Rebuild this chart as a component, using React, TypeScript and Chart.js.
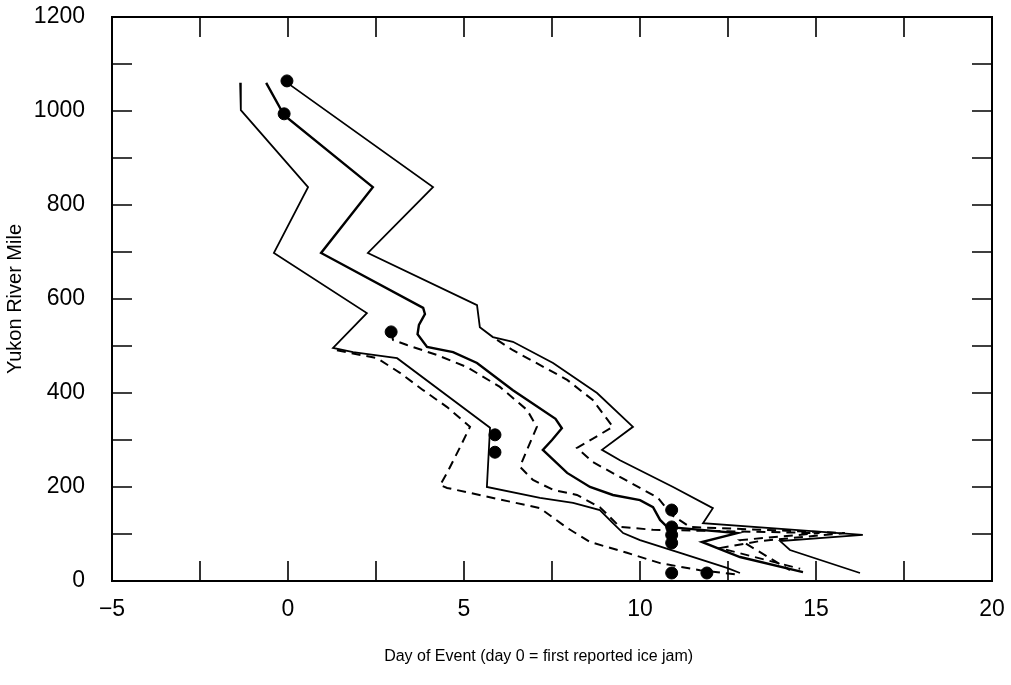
import React, { useEffect, useRef } from "react";
import { Chart, registerables } from "chart.js";

Chart.register(...registerables);

// Axis tick positions
const dayLabelTicks = [-5, 0, 5, 10, 15, 20];
const dayMarkTicks = [-5, -2.5, 0, 2.5, 5, 7.5, 10, 12.5, 15, 17.5, 20];
const mileLabelTicks = [0, 200, 400, 600, 800, 1000, 1200];
const mileMarkTicks = [0, 100, 200, 300, 400, 500, 600, 700, 800, 900, 1000, 1100, 1200];

// Observed events [day, river mile]
const observedEvents: [number, number][] = [
  [-0.03, 1064], [-0.11, 994], [2.93, 530], [5.88, 311], [5.88, 274],
  [10.9, 151], [10.9, 115], [10.9, 98], [10.9, 81], [10.9, 17], [11.9, 17],
];

// Left solid envelope
const leftSolid: [number, number][] = [
  [-1.36, 1060], [-1.34, 1002], [0.57, 838], [-0.4, 698], [2.24, 570],
  [1.28, 496], [1.85, 487], [3.1, 474], [5.74, 326], [5.65, 200],
  [7.16, 177], [8.1, 166], [8.86, 151], [9.23, 123], [9.52, 102],
  [10.0, 87], [11.14, 60], [12.47, 28], [12.84, 17],
];

// Centre solid line
const centreSolid: [number, number][] = [
  [-0.62, 1060], [-0.11, 991], [2.41, 838], [0.94, 698], [3.84, 581],
  [3.89, 568], [3.72, 545], [3.68, 525], [3.95, 498], [4.69, 487],
  [5.37, 464], [6.39, 406], [7.6, 345], [7.78, 325], [7.5, 300], [7.24, 279],
  [7.93, 230], [8.58, 200], [9.23, 183], [10.0, 172], [10.37, 157],
  [10.57, 130], [10.77, 115], [12.76, 102], [11.76, 83], [12.84, 51],
  [14.63, 19],
];

// Right solid envelope
const rightSolid: [number, number][] = [
  [-0.06, 1062], [4.12, 838], [2.27, 698], [5.37, 587],
  [5.45, 540], [5.82, 519], [6.39, 509], [7.53, 464], [8.78, 400],
  [9.8, 328], [8.92, 279], [9.43, 257], [10.94, 200], [12.07, 155],
  [11.79, 123], [16.33, 98], [13.98, 85], [14.26, 66], [16.25, 17],
];

// Left dashed line
const leftDashed: [number, number][] = [
  [1.39, 491], [2.53, 474], [3.18, 443], [3.84, 406], [4.52, 370],
  [5.17, 328], [4.89, 285], [4.52, 230], [4.32, 204], [4.52, 198],
  [7.16, 155], [7.93, 113], [8.58, 83], [9.63, 60], [10.57, 38],
  [11.7, 23], [12.84, 13],
];

// Middle dashed line
const middleDashed: [number, number][] = [
  [2.95, 530], [2.98, 513], [3.38, 502], [4.23, 481], [5.09, 455],
  [6.02, 413], [6.79, 364], [7.07, 328], [6.79, 279], [6.59, 243],
  [6.96, 215], [7.53, 194], [8.21, 183], [8.86, 157], [9.43, 115],
  [10.37, 109], [15.1, 102], [12.84, 87], [14.26, 23],
];

// Right dashed line
const rightDashed: [number, number][] = [
  [5.94, 513], [6.39, 491], [7.93, 428], [8.66, 385], [9.23, 328],
  [8.21, 283], [8.66, 253], [10.51, 177], [10.91, 140], [11.42, 115],
  [15.82, 102], [13.41, 85], [12.27, 70], [14.55, 26],
];

const FONT = "'Liberation Sans', Arial, Helvetica, sans-serif";

const toXY = (arr: [number, number][]) => arr.map(([x, y]) => ({ x, y }));

const frameAndTicks = {
  id: "frameAndTicks",
  afterDraw(chart: any) {
    const { ctx, chartArea, scales } = chart;
    const { left, right, top, bottom } = chartArea;
    const len = 20;
    ctx.save();
    ctx.strokeStyle = "#000";
    ctx.lineWidth = 2;
    ctx.strokeRect(left, top, right - left, bottom - top);
    ctx.lineWidth = 1.6;
    ctx.beginPath();
    dayMarkTicks.forEach((d) => {
      const px = scales.x.getPixelForValue(d);
      ctx.moveTo(px, bottom);
      ctx.lineTo(px, bottom - len);
      ctx.moveTo(px, top);
      ctx.lineTo(px, top + len);
    });
    mileMarkTicks.forEach((m) => {
      const py = scales.y.getPixelForValue(m);
      ctx.moveTo(left, py);
      ctx.lineTo(left + len, py);
      ctx.moveTo(right, py);
      ctx.lineTo(right - len, py);
    });
    ctx.stroke();
    ctx.restore();
  },
};

export default function App() {
  const ref = useRef<HTMLCanvasElement | null>(null);

  useEffect(() => {
    if (!ref.current) return;
    const lineBase = {
      showLine: true,
      pointRadius: 0,
      borderColor: "#000",
      backgroundColor: "#000",
      tension: 0,
      fill: false,
    };
    const chart = new Chart(ref.current, {
      type: "scatter",
      data: {
        datasets: [
          {
            label: "Observed",
            data: toXY(observedEvents),
            pointRadius: 6,
            pointBackgroundColor: "#000",
            pointBorderColor: "#000",
            showLine: false,
          },
          { ...lineBase, label: "Left", data: toXY(leftSolid), borderWidth: 1.8 },
          { ...lineBase, label: "Centre", data: toXY(centreSolid), borderWidth: 2.4 },
          { ...lineBase, label: "Right", data: toXY(rightSolid), borderWidth: 1.8 },
          { ...lineBase, label: "Left dashed", data: toXY(leftDashed), borderWidth: 2, borderDash: [9, 6] },
          { ...lineBase, label: "Middle dashed", data: toXY(middleDashed), borderWidth: 2, borderDash: [9, 6] },
          { ...lineBase, label: "Right dashed", data: toXY(rightDashed), borderWidth: 2, borderDash: [9, 6] },
        ] as any,
      },
      options: {
        animation: false,
        responsive: false,
        maintainAspectRatio: false,
        layout: { padding: { left: 0, right: 19, top: 17, bottom: 0 } },
        plugins: { legend: { display: false }, tooltip: { enabled: false } },
        scales: {
          x: {
            type: "linear",
            min: -5,
            max: 20,
            afterFit: (s: any) => {
              s.height = 104;
              s.paddingLeft = 0;
              s.paddingRight = 0;
            },
            afterBuildTicks: (s: any) => { s.ticks = dayLabelTicks.map((v) => ({ value: v })); },
            grid: { display: false, drawTicks: false },
            border: { display: false },
            ticks: {
              color: "#000",
              font: { family: FONT, size: 23 },
              padding: 15,
              callback: (v: any) => (Number(v) < 0 ? "\u2212" + Math.abs(Number(v)) : String(v)),
            },
            title: {
              display: true,
              text: "Day of Event (day 0 = first reported ice jam)      ",
              color: "#000",
              font: { family: FONT, size: 16 },
              padding: { top: 0, bottom: 19 },
            },
          },
          y: {
            type: "linear",
            min: 0,
            max: 1200,
            afterFit: (s: any) => {
              s.width = 112;
              s.paddingTop = 0;
              s.paddingBottom = 0;
            },
            afterBuildTicks: (s: any) => { s.ticks = mileLabelTicks.map((v) => ({ value: v })); },
            grid: { display: false, drawTicks: false },
            border: { display: false },
            ticks: {
              color: "#000",
              font: { family: FONT, size: 23 },
              padding: 27,
              callback: (v: any) => String(v),
            },
            title: {
              display: true,
              text: "Yukon River Mile",
              color: "#000",
              font: { family: FONT, size: 20 },
              padding: { top: 3, bottom: 0 },
            },
          },
        },
      },
      plugins: [frameAndTicks],
    });
    return () => chart.destroy();
  }, []);

  return (
    <div style={{ position: "fixed", left: 0, top: 0, width: 1011, height: 685, background: "#fff" }}>
      <canvas ref={ref} width={1011} height={685} style={{ width: 1011, height: 685 }} />
    </div>
  );
}
